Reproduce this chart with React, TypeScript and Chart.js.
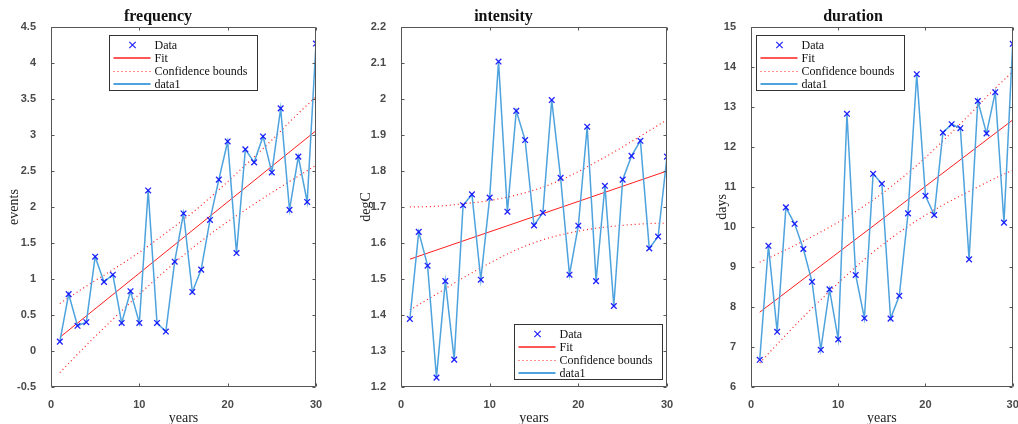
import React, { useEffect, useRef } from 'react';
import { Chart, registerables } from 'chart.js';

Chart.register(...registerables);

const years = [1, 2, 3, 4, 5, 6, 7, 8, 9, 10, 11, 12, 13, 14, 15, 16, 17, 18, 19, 20, 21, 22, 23, 24, 25, 26, 27, 28, 29, 30];

const frequency = [0.13, 0.79, 0.35, 0.40, 1.31, 0.96, 1.06, 0.39, 0.83, 0.39, 2.23, 0.39, 0.27, 1.24, 1.91, 0.82, 1.13, 1.82, 2.38, 2.91, 1.36, 2.80, 2.62, 2.98, 2.48, 3.37, 1.96, 2.70, 2.07, 4.27];
const intensity = [1.389, 1.631, 1.537, 1.226, 1.494, 1.276, 1.705, 1.735, 1.498, 1.726, 2.104, 1.687, 1.967, 1.886, 1.649, 1.684, 1.997, 1.781, 1.512, 1.648, 1.923, 1.494, 1.759, 1.425, 1.776, 1.842, 1.884, 1.585, 1.618, 1.840];
const duration = [6.68, 9.53, 7.38, 10.49, 10.08, 9.45, 8.63, 6.93, 8.44, 7.19, 12.83, 8.80, 7.72, 11.33, 11.08, 7.71, 8.28, 10.34, 13.82, 10.78, 10.30, 12.36, 12.57, 12.47, 9.19, 13.15, 12.34, 13.37, 10.11, 14.58];

const fitX = [1, 30];
const frequencyFit = [0.19, 3.06];
const intensityFit = [1.555, 1.80];
const durationFit = [7.87, 12.675];

const boundX = [1, 4, 7, 10, 13, 16, 19, 22, 25, 28, 30];
const frequencyUpper = [0.66, 0.90, 1.13, 1.37, 1.64, 1.92, 2.24, 2.58, 2.93, 3.30, 3.53];
const frequencyLower = [-0.30, 0.08, 0.44, 0.79, 1.12, 1.43, 1.71, 1.96, 2.20, 2.43, 2.58];
const intensityUpper = [1.700, 1.702, 1.709, 1.718, 1.733, 1.755, 1.786, 1.825, 1.867, 1.912, 1.942];
const intensityLower = [1.414, 1.458, 1.503, 1.544, 1.581, 1.609, 1.628, 1.641, 1.649, 1.654, 1.655];
const durationUpper = [9.12, 9.43, 9.76, 10.12, 10.53, 11.00, 11.54, 12.15, 12.80, 13.47, 13.88];
const durationLower = [6.60, 7.30, 7.97, 8.60, 9.19, 9.71, 10.16, 10.55, 10.89, 11.22, 11.42];

const legendLabels = ['Data', 'Fit', 'Confidence bounds', 'data1'];
const xTickStep = 10;

type Panel = {
  title: string;
  ylabel: string;
  values: number[];
  fit: number[];
  upper: number[];
  lower: number[];
  ymin: number;
  ymax: number;
  ystep: number;
  canvasLeft: number;
  canvasWidth: number;
  plotLeft: number;
  plotRight: number;
  legendX: number;
  legendY: number;
  yTitlePad: number;
};

const panels: Panel[] = [
  { title: 'frequency', ylabel: 'events', values: frequency, fit: frequencyFit, upper: frequencyUpper, lower: frequencyLower, ymin: -0.5, ymax: 4.5, ystep: 0.5, canvasLeft: 0, canvasWidth: 330, plotLeft: 51, plotRight: 316, legendX: 109, legendY: 35, yTitlePad: 6 },
  { title: 'intensity', ylabel: 'degC', values: intensity, fit: intensityFit, upper: intensityUpper, lower: intensityLower, ymin: 1.2, ymax: 2.2, ystep: 0.1, canvasLeft: 340, canvasWidth: 340, plotLeft: 401, plotRight: 667, legendX: 514, legendY: 324, yTitlePad: 18 },
  { title: 'duration', ylabel: 'days', values: duration, fit: durationFit, upper: durationUpper, lower: durationLower, ymin: 6, ymax: 15, ystep: 1, canvasLeft: 690, canvasWidth: 328, plotLeft: 751, plotRight: 1016, legendX: 756, legendY: 35, yTitlePad: 24 },
];

const PLOT_BOTTOM = 387;
const H = 424;

const DATA_COLOR = 'rgba(10,10,255,0.9)';
const LINE_COLOR = 'rgb(78,163,222)';
const FIT_COLOR = 'rgb(255,30,30)';

const fmtTick = (v: any) => String(Number(Number(v).toFixed(3)));

const framePlugin = {
  id: 'frame',
  afterDatasetsDraw(chart: any) {
    const { ctx, chartArea: a } = chart;
    const xs = chart.scales.x;
    const ys = chart.scales.y;
    ctx.save();
    ctx.strokeStyle = '#555555';
    ctx.lineWidth = 1;
    const L = Math.round(a.left) + 0.5;
    const R = Math.round(a.right) - 0.5;
    const T = Math.round(a.top) + 0.5;
    const B = Math.round(a.bottom) - 0.5;
    ctx.beginPath();
    ctx.rect(L, T, R - L, B - T);
    ctx.stroke();
    const tl = 3;
    ctx.beginPath();
    xs.ticks.forEach((t: any) => {
      const px = Math.round(xs.getPixelForValue(t.value)) + 0.5;
      ctx.moveTo(px, B); ctx.lineTo(px, B - tl);
      ctx.moveTo(px, T); ctx.lineTo(px, T + tl);
    });
    ys.ticks.forEach((t: any) => {
      const py = Math.round(ys.getPixelForValue(t.value)) + 0.5;
      ctx.moveTo(L, py); ctx.lineTo(L + tl, py);
      ctx.moveTo(R, py); ctx.lineTo(R - tl, py);
    });
    ctx.stroke();
    ctx.restore();
  },
};

const legendPlugin = {
  id: 'boxLegend',
  afterDraw(chart: any, _args: any, opts: any) {
    const { ctx } = chart;
    const lx = Math.round(opts.x) + 0.5;
    const ly = Math.round(opts.y) + 0.5;
    const w = 148;
    const h = 55;
    ctx.save();
    ctx.fillStyle = '#ffffff';
    ctx.fillRect(lx, ly, w, h);
    ctx.strokeStyle = '#333333';
    ctx.lineWidth = 1;
    ctx.strokeRect(lx, ly, w, h);
    const rows = [9.5, 22.5, 36, 48.5];
    const s0 = lx + 4;
    const s1 = lx + 41;
    ctx.font = '12px "Liberation Serif", serif';
    ctx.textBaseline = 'middle';
    ctx.textAlign = 'left';
    rows.forEach((ry, i) => {
      const y = ly + ry;
      if (i === 0) {
        ctx.strokeStyle = DATA_COLOR;
        ctx.lineWidth = 1.2;
        const cx = lx + 23;
        const r = 3.2;
        ctx.beginPath();
        ctx.moveTo(cx - r, y - r); ctx.lineTo(cx + r, y + r);
        ctx.moveTo(cx + r, y - r); ctx.lineTo(cx - r, y + r);
        ctx.stroke();
      } else if (i === 1) {
        ctx.strokeStyle = FIT_COLOR;
        ctx.lineWidth = 1.5;
        ctx.beginPath(); ctx.moveTo(s0, y); ctx.lineTo(s1, y); ctx.stroke();
      } else if (i === 2) {
        ctx.strokeStyle = FIT_COLOR;
        ctx.lineWidth = 1;
        ctx.setLineDash([1, 3]);
        ctx.beginPath(); ctx.moveTo(s0, y); ctx.lineTo(s1, y); ctx.stroke();
        ctx.setLineDash([]);
      } else {
        ctx.strokeStyle = LINE_COLOR;
        ctx.lineWidth = 2;
        ctx.beginPath(); ctx.moveTo(s0, y); ctx.lineTo(s1, y); ctx.stroke();
      }
      ctx.fillStyle = '#111111';
      ctx.fillText(legendLabels[i], lx + 45, y + 0.5);
    });
    ctx.restore();
  },
};

function PanelChart({ p }: { p: Panel }) {
  const ref = useRef<HTMLCanvasElement | null>(null);
  useEffect(() => {
    if (!ref.current) return;
    const rightPad = p.canvasWidth - (p.plotRight - p.canvasLeft);
    const yWidth = p.plotLeft - p.canvasLeft;
    const chart = new Chart(ref.current, {
      type: 'line',
      data: {
        datasets: [
          {
            label: 'data1',
            data: years.map((x, i) => ({ x, y: p.values[i] })),
            borderColor: LINE_COLOR,
            borderWidth: 1.5,
            pointRadius: 0,
            fill: false,
            tension: 0,
            order: 1,
          },
          {
            label: 'Data',
            data: years.map((x, i) => ({ x, y: p.values[i] })),
            showLine: false,
            pointStyle: 'crossRot',
            pointRadius: 4,
            pointBorderColor: DATA_COLOR,
            pointBorderWidth: 1.3,
            borderColor: DATA_COLOR,
            order: 0,
          },
          {
            label: 'Fit',
            data: fitX.map((x, i) => ({ x, y: p.fit[i] })),
            borderColor: FIT_COLOR,
            borderWidth: 1,
            pointRadius: 0,
            order: 2,
          },
          {
            label: 'Confidence bounds',
            data: boundX.map((x, i) => ({ x, y: p.upper[i] })),
            borderColor: FIT_COLOR,
            borderWidth: 1.2,
            borderDash: [1, 3],
            pointRadius: 0,
            cubicInterpolationMode: 'monotone',
            order: 3,
          },
          {
            label: 'Confidence bounds lower',
            data: boundX.map((x, i) => ({ x, y: p.lower[i] })),
            borderColor: FIT_COLOR,
            borderWidth: 1.2,
            borderDash: [1, 3],
            pointRadius: 0,
            cubicInterpolationMode: 'monotone',
            order: 3,
          },
        ] as any,
      },
      options: {
        animation: false,
        responsive: false,
        maintainAspectRatio: false,
        layout: { padding: { left: 0, right: rightPad, top: 0, bottom: 0 } },
        plugins: {
          legend: { display: false },
          tooltip: { enabled: false },
          title: {
            display: true,
            text: p.title,
            color: '#111111',
            font: { family: '"Liberation Serif", serif', size: 16, weight: 'bold', lineHeight: 1.125 },
            padding: { top: 8, bottom: 1 },
          },
          boxLegend: { x: p.legendX - p.canvasLeft, y: p.legendY },
        } as any,
        scales: {
          x: {
            type: 'linear',
            min: 0,
            max: 30,
            grid: { display: false },
            border: { display: false },
            ticks: {
              stepSize: xTickStep,
              padding: 3,
              maxRotation: 0,
              color: '#4a4a4a',
              callback: fmtTick,
              font: { family: '"Liberation Sans", Arial, sans-serif', size: 11, weight: 'bold' },
            },
            title: {
              display: true,
              text: 'years',
              color: '#222222',
              font: { family: '"Liberation Serif", serif', size: 14 },
              padding: { top: 0, bottom: -3 },
            },
            afterFit: (s: any) => {
              s.height = H - PLOT_BOTTOM;
              s.paddingLeft = 0;
              s.paddingRight = 0;
            },
          },
          y: {
            type: 'linear',
            min: p.ymin,
            max: p.ymax,
            grid: { display: false },
            border: { display: false },
            ticks: {
              stepSize: p.ystep,
              padding: 7,
              color: '#4a4a4a',
              callback: fmtTick,
              font: { family: '"Liberation Sans", Arial, sans-serif', size: 11, weight: 'bold' },
            },
            title: {
              display: true,
              text: p.ylabel,
              color: '#222222',
              font: { family: '"Liberation Serif", serif', size: 14 },
              padding: { top: p.yTitlePad, bottom: 0 },
            },
            afterFit: (s: any) => {
              s.width = yWidth;
              s.paddingTop = 0;
              s.paddingBottom = 0;
            },
          },
        } as any,
      },
      plugins: [framePlugin, legendPlugin],
    });
    return () => chart.destroy();
  }, [p]);
  return (
    <canvas
      ref={ref}
      width={p.canvasWidth}
      height={H}
      style={{ position: 'absolute', left: p.canvasLeft, top: 0, width: p.canvasWidth, height: H, display: 'block' }}
    />
  );
}

export default function App() {
  return (
    <div style={{ position: 'absolute', left: 0, top: 0, width: 1018, height: H, background: '#ffffff', overflow: 'hidden' }}>
      {panels.map((p) => (
        <PanelChart key={p.title} p={p} />
      ))}
    </div>
  );
}
